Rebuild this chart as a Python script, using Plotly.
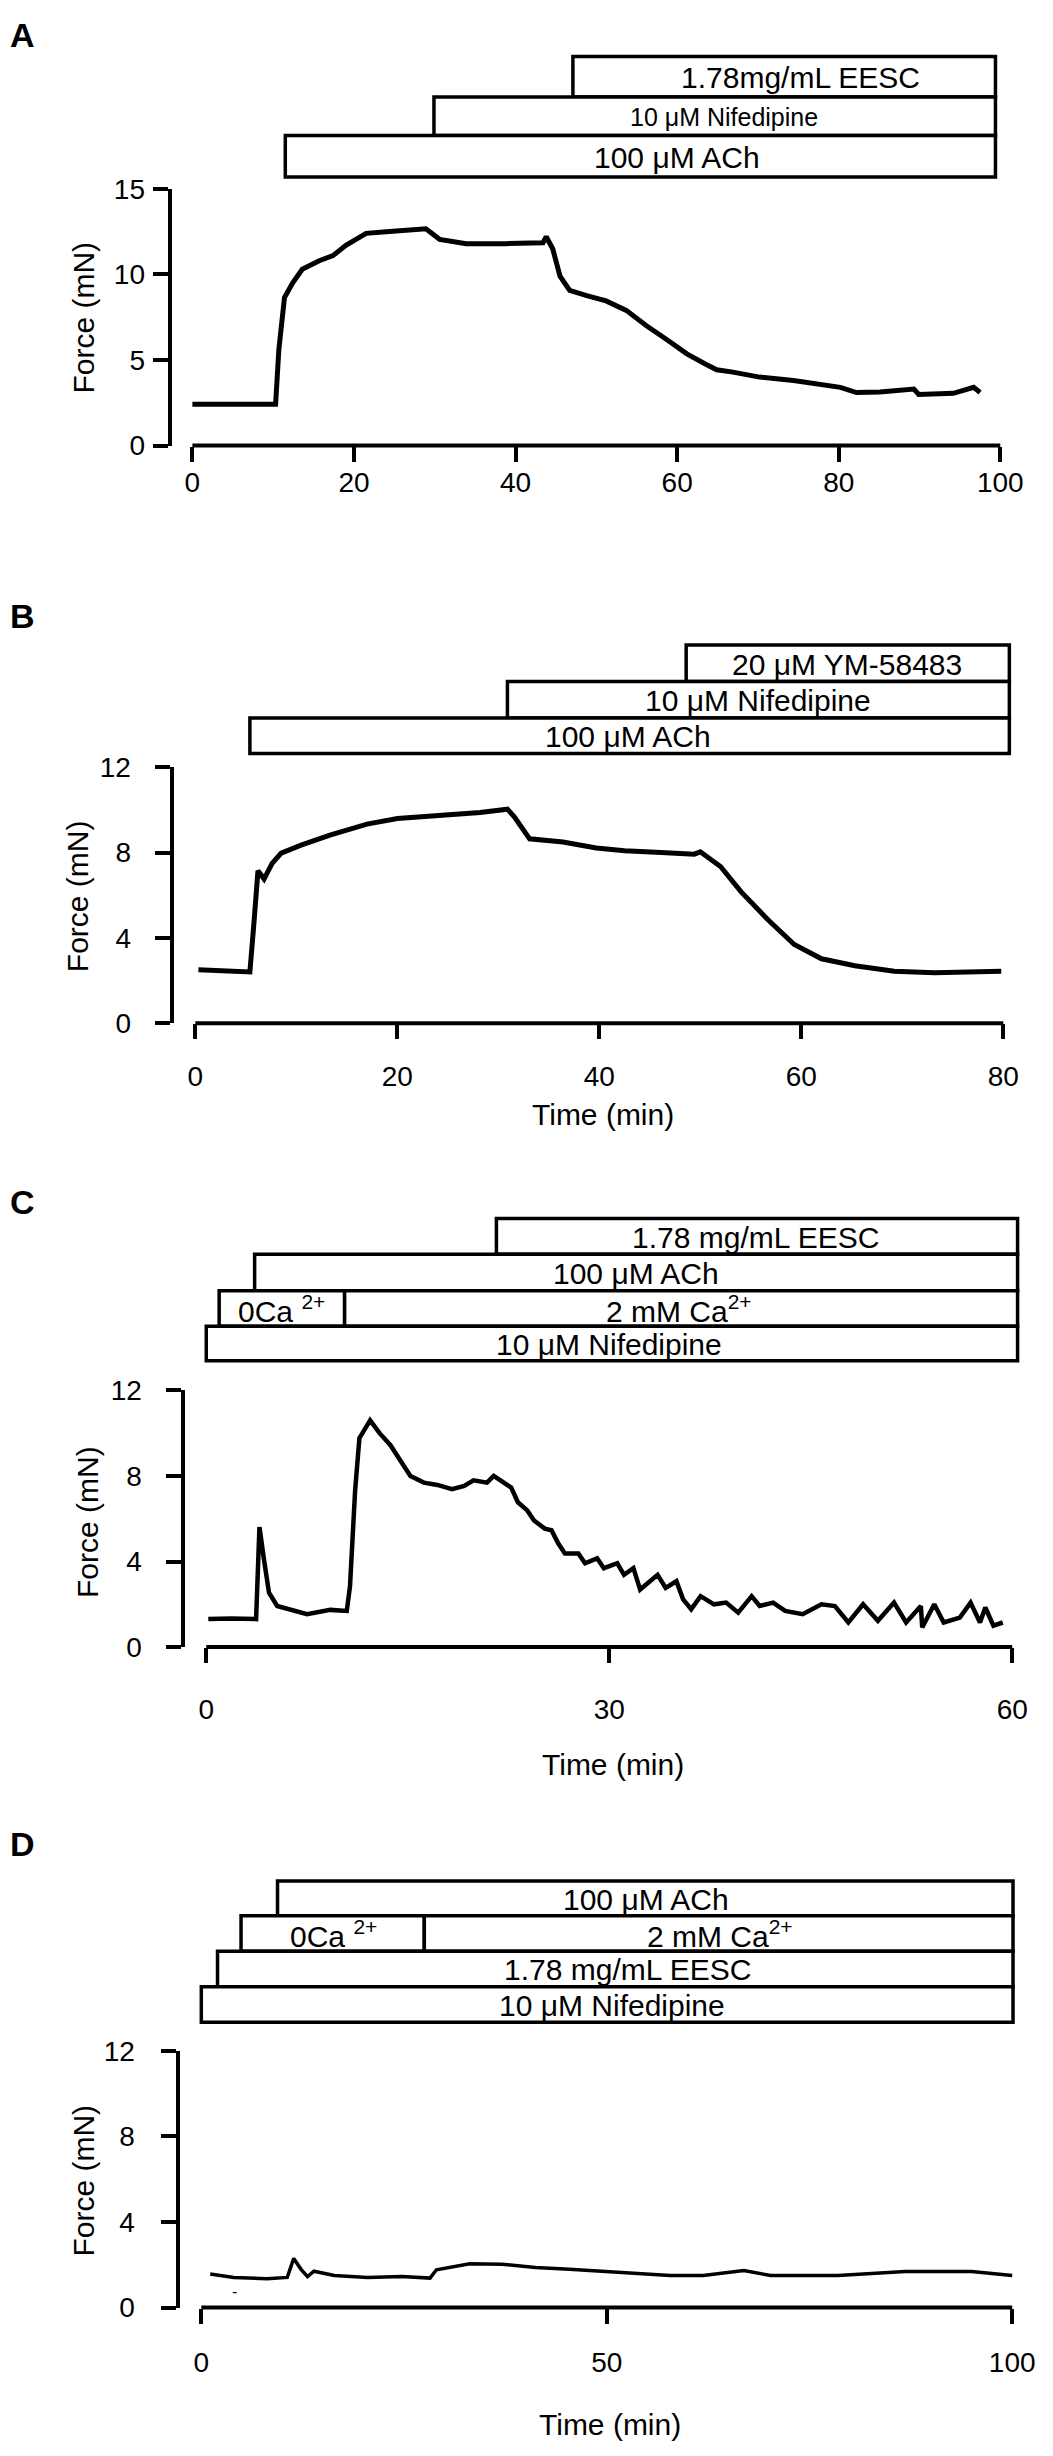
import plotly.graph_objects as go

# ---- data (time in min, force in mN) ----
a_time = [0, 10.3, 10.7, 11.4, 12.4, 13.6, 15.7, 17.4, 19.0, 21.5, 24.0, 28.5, 28.9, 30.6,
          33.9, 38.8, 43.4, 43.8, 44.6, 45.5, 46.7, 48.8, 51.2, 53.7, 56.2, 58.7, 61.2,
          63.6, 64.9, 66.9, 70.2, 74.4, 77.7, 80.2, 82.2, 85.1, 89.3, 89.9, 94.2, 96.7, 97.5]
a_force = [2.41, 2.41, 5.6, 8.65, 9.5, 10.3, 10.8, 11.1, 11.7, 12.4, 12.5, 12.6, 12.67, 12.05,
           11.8, 11.8, 11.85, 12.2, 11.5, 9.9, 9.07, 8.76, 8.45, 7.9, 7.0, 6.2, 5.36,
           4.74, 4.43, 4.29, 4.0, 3.8, 3.6, 3.4, 3.1, 3.13, 3.3, 2.99, 3.05, 3.4, 3.1]

b_time = [0.3, 5.4, 5.8, 6.2, 6.8, 7.6, 8.5, 10.4, 13.4, 17.0, 20.0, 23.3, 28.2, 30.9,
          31.6, 33.1, 36.4, 39.7, 42.5, 46.1, 49.4, 50.0, 52.0, 54.0, 56.7, 59.3, 62.0,
          65.3, 69.2, 73.2, 79.8]
b_force = [2.5, 2.4, 4.7, 7.15, 6.76, 7.5, 7.98, 8.34, 8.83, 9.34, 9.6, 9.72, 9.88, 10.04,
           9.67, 8.65, 8.5, 8.22, 8.09, 8.01, 7.93, 8.04, 7.35, 6.18, 4.85, 3.69, 3.02,
           2.69, 2.44, 2.36, 2.44]

c_time = [0.15, 1.87, 3.71, 3.96, 4.3, 4.67, 5.28, 6.76, 7.5, 9.23, 10.46, 10.7, 11.08, 11.4,
          12.2, 12.9, 13.7, 14.4, 15.2, 16.2, 17.2, 18.3, 19.2, 19.9, 20.9, 21.4, 22.2, 22.7,
          23.2, 23.9, 24.4, 25.2, 25.7, 26.2, 26.7, 27.7, 28.2, 29.1, 29.6, 30.6, 31.1, 31.8,
          32.3, 33.6, 34.2, 35.0, 35.5, 36.1, 36.8, 37.8, 38.7, 39.6, 40.6, 41.2, 42.2, 43.1,
          44.4, 45.8, 46.8, 47.8, 48.9, 50.0, 51.2, 52.1, 53.2, 53.3, 54.2, 54.9, 56.1, 56.9,
          57.6, 58.0, 58.6, 59.3]
c_force = [1.31, 1.34, 1.31, 5.61, 4.08, 2.54, 1.92, 1.69, 1.54, 1.74, 1.69, 2.84, 7.3, 9.77,
           10.6, 10.0, 9.45, 8.77, 8.0, 7.69, 7.58, 7.38, 7.54, 7.8, 7.69, 8.0, 7.69, 7.46,
           6.77, 6.39, 5.92, 5.54, 5.46, 4.85, 4.38, 4.38, 3.92, 4.15, 3.69, 3.92, 3.38, 3.69,
           2.69, 3.38, 2.77, 3.08, 2.23, 1.77, 2.38, 2.0, 2.08, 1.61, 2.38, 1.92, 2.08, 1.69,
           1.54, 2.0, 1.92, 1.15, 2.0, 1.23, 2.08, 1.15, 1.92, 0.92, 2.0, 1.15, 1.38, 2.08,
           1.15, 1.85, 1.0, 1.15]

d_time = [1.1, 4.0, 8.1, 10.6, 11.4, 12.3, 13.1, 13.9, 16.4, 20.5, 24.7, 28.2, 29.0, 33.1,
          37.1, 41.2, 45.4, 48.7, 53.6, 57.8, 61.9, 66.9, 70.2, 78.5, 86.8, 95.0, 100.0]
d_force = [1.57, 1.41, 1.35, 1.41, 2.3, 1.79, 1.45, 1.7, 1.5, 1.41, 1.45, 1.38, 1.77, 2.05,
           2.03, 1.88, 1.79, 1.71, 1.6, 1.5, 1.5, 1.73, 1.5, 1.5, 1.69, 1.69, 1.5]

# ---- drug application bars: label, start, end, row (0 = top row) ----
a_bar_labels = ["1.78mg/mL EESC", "10 μM Nifedipine", "100 μM ACh"]
a_bar_start = [47.1, 29.9, 11.5]
a_bar_end = [99.4, 99.4, 99.4]
a_bar_row = [0, 1, 2]

b_bar_labels = ["20 μM YM-58483", "10 μM Nifedipine", "100 μM ACh"]
b_bar_start = [48.6, 30.9, 5.4]
b_bar_end = [80.6, 80.6, 80.6]
b_bar_row = [0, 1, 2]

c_bar_labels = ["1.78 mg/mL EESC", "100 μM ACh", "0Ca <sup>2+</sup>", "2 mM Ca<sup>2+</sup>",
                "10 μM Nifedipine"]
c_bar_start = [21.6, 3.6, 0.96, 10.3, 0]
c_bar_end = [60.4, 60.4, 10.3, 60.4, 60.4]
c_bar_row = [0, 1, 2, 2, 3]

d_bar_labels = ["100 μM ACh", "0Ca <sup>2+</sup>", "2 mM Ca<sup>2+</sup>", "1.78 mg/mL EESC",
                "10 μM Nifedipine"]
d_bar_start = [9.4, 4.9, 27.5, 2.0, 0]
d_bar_end = [100.1, 27.5, 100.1, 100.1, 100.1]
d_bar_row = [0, 1, 1, 2, 3]

a_xticks = [0, 20, 40, 60, 80, 100]
b_xticks = [0, 20, 40, 60, 80]
c_xticks = [0, 30, 60]
d_xticks = [0, 50, 100]
a_yticks = [0, 5, 10, 15]
bcd_yticks = [0, 4, 8, 12]

# the page body keeps its 8px margin, so the figure is 16px smaller than the window
PAGE_W, PAGE_H, PAD = 1053, 2456, 8
W, H = PAGE_W - 2 * PAD, PAGE_H - 2 * PAD
FONT = "Liberation Sans, Arial, sans-serif"
XPAD = 14  # px of spare room either side of the time axis, so bar edges are not clipped


def px(x):
    return (x - PAD) / W


def py(y):
    return 1 - (y - PAD) / H


# layout in page pixels for each panel
panels = [
    dict(letter="A", letter_y=20, t=a_time, f=a_force, lw=5,
         labels=a_bar_labels, start=a_bar_start, end=a_bar_end, row=a_bar_row,
         label_x=[75.3, 65.8, 60.0], label_size=[30, 25, 30],
         row_edges=[42, 83, 122, 164],
         x0=194, x1=1009, xticks=a_xticks, ytop=176, ybot=436, ymax=15,
         yticks=a_yticks, yaxis_x=171, xstand=-3, ystand=2,
         ytitle=(84, 306), xtitle=None),
    dict(letter="B", letter_y=609, t=b_time, f=b_force, lw=5,
         labels=b_bar_labels, start=b_bar_start, end=b_bar_end, row=b_bar_row,
         label_x=[64.5, 55.7, 42.8], label_size=[30, 30, 30],
         row_edges=[638, 675, 712, 748],
         x0=197, x1=1012, xticks=b_xticks, ytop=762, ybot=1021, ymax=12,
         yticks=bcd_yticks, yaxis_x=173, xstand=13, ystand=18,
         ytitle=(78, 892), xtitle=(608, 1114)),
    dict(letter="C", letter_y=1202, t=c_time, f=c_force, lw=4.5,
         labels=c_bar_labels, start=c_bar_start, end=c_bar_end, row=c_bar_row,
         label_x=[40.9, 32.0, 5.6, 35.2, 30.0], label_size=[30, 30, 30, 30, 30],
         row_edges=[1219, 1255, 1292, 1328, 1363],
         x0=208, x1=1021, xticks=c_xticks, ytop=1393, ybot=1653, ymax=12,
         yticks=bcd_yticks, yaxis_x=185, xstand=22, ystand=19,
         ytitle=(88, 1526), xtitle=(618, 1772)),
    dict(letter="D", letter_y=1852, t=d_time, f=d_force, lw=3.5,
         labels=d_bar_labels, start=d_bar_start, end=d_bar_end, row=d_bar_row,
         label_x=[54.9, 16.3, 64.0, 52.5, 50.7], label_size=[30, 30, 30, 30, 30],
         row_edges=[1890, 1925, 1961, 1997, 2033],
         x0=203, x1=1021, xticks=d_xticks, ytop=2062, ybot=2322, ymax=12,
         yticks=bcd_yticks, yaxis_x=179, xstand=15, ystand=20,
         ytitle=(84, 2193), xtitle=(615, 2440)),
]

fig = go.Figure()
shapes = []
annotations = []
tick_style = dict(ticks="outside", ticklen=15, tickwidth=4, tickcolor="black",
                  showgrid=False, zeroline=False,
                  tickfont=dict(family=FONT, size=28, color="black"))

for i, p in enumerate(panels, start=1):
    xa, ya = f"x{i}", f"y{i}"
    xmin, xmax = p["xticks"][0], p["xticks"][-1]
    spare = XPAD * (xmax - xmin) / (p["x1"] - p["x0"])

    fig.add_trace(go.Scatter(x=p["t"], y=p["f"], mode="lines", xaxis=xa, yaxis=ya,
                             line=dict(color="black", width=p["lw"]), showlegend=False))

    fig.update_layout({
        f"xaxis{i}": dict(domain=[px(p["x0"] - XPAD), px(p["x1"] + XPAD)],
                          range=[xmin - spare, xmax + spare], anchor=ya, showline=False,
                          tickvals=p["xticks"], ticklabelstandoff=p["xstand"], **tick_style),
        f"yaxis{i}": dict(domain=[py(p["ybot"]), py(p["ytop"])], range=[0, p["ymax"]],
                          anchor="free", position=px(p["yaxis_x"]), tickvals=p["yticks"],
                          showline=True, linewidth=4, linecolor="black",
                          ticklabelstandoff=p["ystand"], **tick_style),
    })

    # time axis line running from the first to the last tick only
    shapes.append(dict(type="line", xref=xa, yref="paper", x0=xmin, x1=xmax,
                       y0=py(p["ybot"]), y1=py(p["ybot"]),
                       line=dict(color="black", width=4)))

    # drug bars
    edges = p["row_edges"]
    for lab, s, e, r, lx, ls in zip(p["labels"], p["start"], p["end"], p["row"],
                                    p["label_x"], p["label_size"]):
        shapes.append(dict(type="rect", xref=xa, yref="paper", x0=s, x1=e,
                           y0=py(edges[r + 1]), y1=py(edges[r]),
                           fillcolor="white", line=dict(color="black", width=3.5)))
        annotations.append(dict(xref=xa, yref="paper", x=lx,
                                y=py((edges[r] + edges[r + 1]) / 2 + 1),
                                xanchor="center", yanchor="middle",
                                text=lab, showarrow=False,
                                font=dict(family=FONT, size=ls, color="black")))

    annotations.append(dict(xref="paper", yref="paper", x=0, y=py(p["letter_y"]),
                            xanchor="left", yanchor="middle",
                            text=f"<b>{p['letter']}</b>", showarrow=False,
                            font=dict(family=FONT, size=34, color="black")))
    tx, ty = p["ytitle"]
    annotations.append(dict(xref="paper", yref="paper", x=px(tx), y=py(ty),
                            xanchor="center", yanchor="middle",
                            text="Force (mN)", textangle=-90, showarrow=False,
                            font=dict(family=FONT, size=30, color="black")))
    if p["xtitle"]:
        tx, ty = p["xtitle"]
        annotations.append(dict(xref="paper", yref="paper", x=px(tx), y=py(ty),
                                xanchor="center", yanchor="middle",
                                text="Time (min)", showarrow=False,
                                font=dict(family=FONT, size=30, color="black")))

# small stray mark below the D trace
annotations.append(dict(xref="paper", yref="paper", x=px(236), y=py(2306), text="-",
                        xanchor="center", yanchor="middle",
                        showarrow=False, font=dict(family=FONT, size=16, color="black")))

fig.update_layout(
    width=W,
    height=H,
    margin=dict(l=0, r=0, t=0, b=0),
    paper_bgcolor="white",
    plot_bgcolor="white",
    shapes=shapes,
    annotations=annotations,
)

fig.write_html("out.html")
